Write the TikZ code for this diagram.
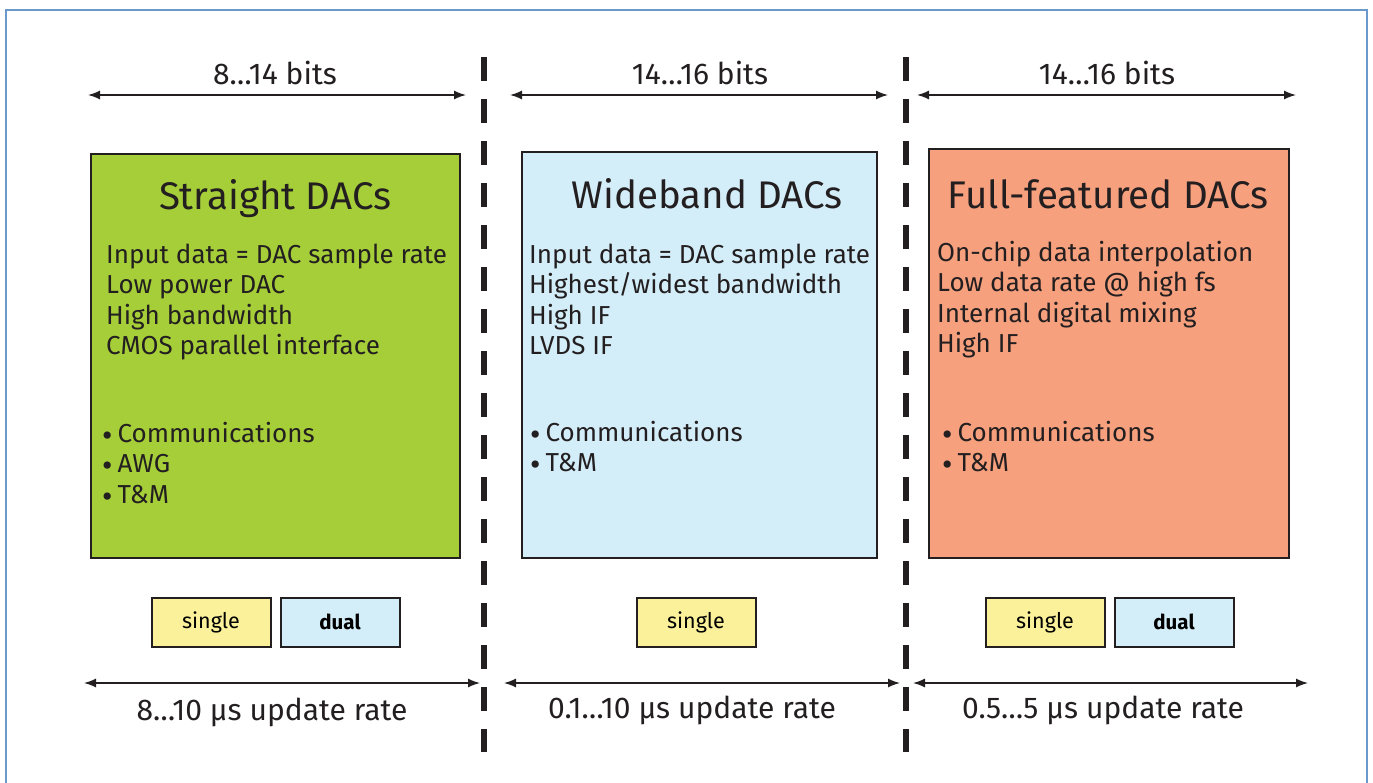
\documentclass[tikz,border=0pt]{standalone}
\usepackage{fontspec}
\setmainfont{Fira Sans}
\usetikzlibrary{arrows.meta,positioning}
\definecolor{Frame}{HTML}{6A9ACB}
\definecolor{Lime}{HTML}{A6CE39}
\definecolor{Sky}{HTML}{D4EEF9}
\definecolor{Salmon}{HTML}{F6A07E}
\definecolor{Butter}{HTML}{FAF19A}
\definecolor{Ink}{HTML}{231F20}
\newcommand{\listdot}{\smash{\raisebox{-4pt}{\fontsize{32}{30}\selectfont•}}\hspace{5pt}}

\begin{document}
\begin{tikzpicture}[x=1pt, y=-1pt, >=Latex,
    classbox/.style={draw=Ink, line width=2pt, anchor=north west, inner sep=0pt},
    chanbox/.style={draw=Ink, line width=2pt, minimum width=119pt, minimum height=49pt, inner sep=0pt, font=\fontsize{21.5}{24}\selectfont},
    boxtitle/.style={anchor=base, inner sep=0pt, text=Ink, font=\fontsize{38.5}{42}\selectfont},
    boxlines/.style={anchor=base west, inner sep=0pt, align=left, text=Ink, font=\fontsize{26}{30.5}\selectfont},
    rangelabel/.style={anchor=base, inner sep=0pt, text=Ink, font=\fontsize{30}{33}\selectfont},
    span/.style={{Latex[length=12pt,width=9pt]}-{Latex[length=12pt,width=9pt]}, line width=1.4pt, draw=Ink}]
  \useasboundingbox (0,0) rectangle (1373,782);
  \draw[Frame, line width=1.3pt] (6,795) -- (6,10) -- (1367,10) -- (1367,795);

  % separators
  \draw[Ink, line width=5.5pt, dash pattern=on 24pt off 18pt] (484,57) -- (484,752);
  \draw[Ink, line width=5.5pt, dash pattern=on 24pt off 18pt] (906,57) -- (906,752);

  % resolution ranges
  \coordinate (t1l) at (88,95);  \coordinate (t1r) at (466,95);
  \coordinate (t2l) at (510,95); \coordinate (t2r) at (888,95);
  \coordinate (t3l) at (917,95); \coordinate (t3r) at (1296,95);
  \draw[span] (t1l) -- (t1r);
  \draw[span] (t2l) -- (t2r);
  \draw[span] (t3l) -- (t3r);
  \node[rangelabel] (bits1) at (275,84) {8…14 bits};
  \node[rangelabel] (bits2) at (700,84) {14…16 bits};
  \node[rangelabel] (bits3) at (1107,84) {14…16 bits};

  % DAC classes
  \node[classbox, fill=Lime, minimum width=369pt, minimum height=404pt] (straight) at (90,153) {};
  \node[classbox, fill=Sky, minimum width=355pt, minimum height=406pt] (wide) at (521,151) {};
  \node[classbox, fill=Salmon, minimum width=360pt, minimum height=409pt] (full) at (928,148) {};

  \node[boxtitle] (straightT) at (275,209) {Straight DACs};
  \node[boxtitle] (wideT) at (707,208) {Wideband DACs};
  \node[boxtitle] (fullT) at (1108,208) {Full-featured DACs};

  % base of a multi-line node = its last line
  \node[boxlines] (straightL) at (106,354.5) {Input data = DAC sample rate\\Low power DAC\\High bandwidth\\CMOS parallel interface};
  \node[boxlines] (wideL) at (529,354.5) {Input data = DAC sample rate\\Highest/widest bandwidth\\High IF\\LVDS IF};
  \node[boxlines] (fullL) at (937,352.5) {On-chip data interpolation\\Low data rate @ high fs\\Internal digital mixing\\High IF};

  \node[boxlines] (straightA) at (102,503) {\listdot Communications\\\listdot AWG\\\listdot T\&M};
  \node[boxlines] (wideA) at (530,471.5) {\listdot Communications\\\listdot T\&M};
  \node[boxlines] (fullA) at (942,471.5) {\listdot Communications\\\listdot T\&M};

  % channel options
  \node[chanbox, fill=Butter] (s1) at (211,622) {single};
  \node[chanbox, fill=Sky, right=8pt of s1] (d1) {\fontsize{20.5}{24}\bfseries dual};
  \node[chanbox, fill=Butter] (s2) at (696,622) {single};
  \node[chanbox, fill=Butter] (s3) at (1045,622) {single};
  \node[chanbox, fill=Sky, right=8pt of s3] (d3) {\fontsize{20.5}{24}\bfseries dual};

  % update rates
  \coordinate (u1l) at (84,683);  \coordinate (u1r) at (480,683);
  \coordinate (u2l) at (504,683); \coordinate (u2r) at (900,683);
  \coordinate (u3l) at (913,683); \coordinate (u3r) at (1308,683);
  \draw[span] (u1l) -- (u1r);
  \draw[span] (u2l) -- (u2r);
  \draw[span] (u3l) -- (u3r);
  \node[rangelabel] (rate1) at (272,720) {8…10 µs update rate};
  \node[rangelabel] (rate2) at (692,718) {0.1…10 µs update rate};
  \node[rangelabel] (rate3) at (1103,718) {0.5…5 µs update rate};
\end{tikzpicture}
\end{document}
